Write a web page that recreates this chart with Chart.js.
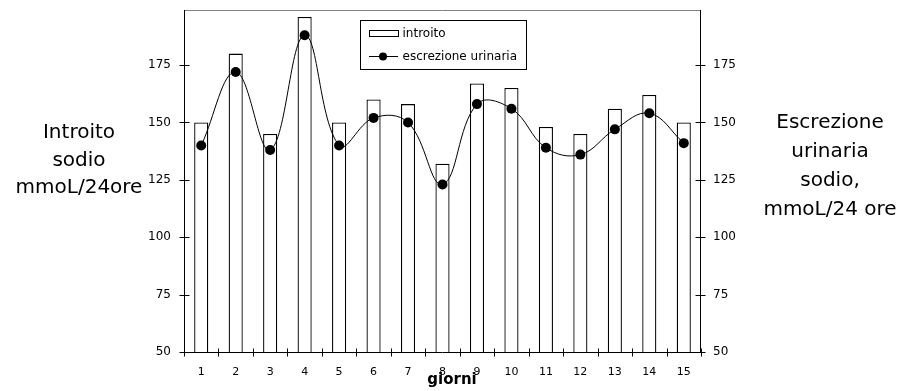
<!DOCTYPE html>
<html lang="it">
<head>
<meta charset="UTF-8">
<title>Introito ed escrezione urinaria di sodio</title>
<script src="https://cdn.jsdelivr.net/npm/chart.js@4"></script>
<style>
  html, body { margin: 0; padding: 0; background: #fff; }
  #wrap { width: 911px; height: 391px; position: relative; }
</style>
</head>
<body>
<div id="wrap"><canvas id="chart"></canvas></div>
<script>
// dati
const giorni = ['1', '2', '3', '4', '5', '6', '7', '8', '9', '10', '11', '12', '13', '14', '15'];
const introito = [150, 180, 145, 196, 150, 160, 158, 132, 167, 165, 148, 145, 156, 162, 150];
const escrezione = [140, 172, 138, 188, 140, 152, 150, 123, 158, 156, 139, 136, 147, 154, 141];
const yTicks = [50, 75, 100, 125, 150, 175];

const titoloSx = ['Introito', 'sodio', 'mmoL/24ore'];
const titoloDx = ['Escrezione', 'urinaria', 'sodio,', 'mmoL/24 ore'];
const titoloX = 'giorni';
const legenda = ['introito', 'escrezione urinaria'];

const FONT = "'DejaVu Sans', sans-serif";
Chart.defaults.color = '#000';
Chart.defaults.font.family = FONT;

// niente padding extra dalle etichette: l'area del grafico resta fissa
const noPad = s => { s.paddingTop = 0; s.paddingBottom = 0; s.paddingLeft = 0; s.paddingRight = 0; };

// assi, tacche, titoli e legenda
const cornice = {
    id: 'cornice',
    afterDatasetsDraw(chart) {
        const { ctx, chartArea: a, scales } = chart;
        const x = scales.x, y = scales.y;
        const L = Math.round(a.left) + 0.5, R = Math.round(a.right) - 0.5, B = Math.round(a.bottom) + 0.5;
        ctx.save();
        ctx.lineWidth = 1;
        // bordo superiore grigio
        ctx.strokeStyle = '#808080';
        ctx.beginPath();
        ctx.moveTo(L, Math.round(a.top) + 0.5);
        ctx.lineTo(R, Math.round(a.top) + 0.5);
        ctx.stroke();
        ctx.strokeStyle = '#000';
        ctx.beginPath();
        ctx.moveTo(L, a.top); ctx.lineTo(L, B);
        ctx.moveTo(R, a.top); ctx.lineTo(R, B);
        ctx.moveTo(L, B); ctx.lineTo(R, B);
        // tacche asse y (attraversano l'asse)
        yTicks.forEach(v => {
            const py = Math.round(y.getPixelForValue(v)) + 0.5;
            ctx.moveTo(L - 5, py); ctx.lineTo(L + 5, py);
            ctx.moveTo(R - 5, py); ctx.lineTo(R + 5, py);
        });
        // tacche asse x tra le categorie
        for (let i = 0; i <= giorni.length; i++) {
            const px = Math.round(x.getPixelForValue(i - 0.5)) + 0.5;
            ctx.moveTo(px, B - 4); ctx.lineTo(px, B + 4);
        }
        ctx.stroke();
        ctx.restore();
    },
    afterDraw(chart) {
        const { ctx } = chart;
        ctx.save();
        ctx.fillStyle = '#000';
        ctx.textAlign = 'center';
        ctx.textBaseline = 'alphabetic';
        ctx.font = '20px ' + FONT;
        titoloSx.forEach((t, i) => ctx.fillText(t, 79, 138 + i * 27.5));
        titoloDx.forEach((t, i) => ctx.fillText(t, 830, 128 + i * 29));
        ctx.font = 'bold 15px ' + FONT;
        ctx.fillText(titoloX, 452, 384);

        // legenda
        ctx.lineWidth = 1;
        ctx.strokeStyle = '#000';
        ctx.fillStyle = '#fff';
        ctx.fillRect(360.5, 20.5, 166, 49);
        ctx.strokeRect(360.5, 20.5, 166, 49);
        ctx.strokeRect(369.5, 30.5, 29, 6);
        ctx.beginPath();
        ctx.moveTo(369, 56.5); ctx.lineTo(398, 56.5);
        ctx.stroke();
        ctx.fillStyle = '#000';
        ctx.beginPath();
        ctx.arc(383, 56.5, 4, 0, Math.PI * 2);
        ctx.fill();
        ctx.font = '12px ' + FONT;
        ctx.textAlign = 'left';
        ctx.textBaseline = 'middle';
        ctx.fillText(legenda[0], 402.5, 33.5);
        ctx.fillText(legenda[1], 402.5, 56.5);
        ctx.restore();
    }
};

const ctx = document.getElementById('chart').getContext('2d');
new Chart(ctx, {
    data: {
        labels: giorni,
        datasets: [{
            type: 'line',
            label: legenda[1],
            data: escrezione,
            yAxisID: 'y2',
            borderColor: '#000',
            borderWidth: 1,
            tension: 0.4,
            pointRadius: 5,
            pointHoverRadius: 5,
            pointBackgroundColor: '#000',
            pointBorderWidth: 0,
            order: 1
        }, {
            type: 'bar',
            label: legenda[0],
            data: introito,
            yAxisID: 'y',
            base: 50,
            backgroundColor: '#fff',
            borderColor: '#000',
            borderWidth: 1.3,
            categoryPercentage: 1,
            barPercentage: 0.41,
            order: 2
        }]
    },
    options: {
        responsive: true,
        maintainAspectRatio: false,
        animation: false,
        layout: { padding: { top: 10, left: 0, right: 0, bottom: 0 } },
        plugins: {
            legend: { display: false },
            tooltip: { enabled: false }
        },
        scales: {
            x: {
                grid: { display: false, drawTicks: false },
                border: { display: false },
                ticks: { font: { size: 11 }, padding: 14, maxRotation: 0 },
                afterFit: s => { s.height = 39; noPad(s); }
            },
            y: {
                position: 'left',
                min: 50,
                max: 199,
                afterBuildTicks: s => { s.ticks = yTicks.map(v => ({ value: v })); },
                grid: { display: false, drawTicks: false },
                border: { display: false },
                ticks: { font: { size: 12 }, padding: 13 },
                afterFit: s => { s.width = 184; noPad(s); }
            },
            y2: {
                position: 'right',
                min: 50,
                max: 199,
                afterBuildTicks: s => { s.ticks = yTicks.map(v => ({ value: v })); },
                grid: { display: false, drawTicks: false },
                border: { display: false },
                ticks: { font: { size: 12 }, padding: 12 },
                afterFit: s => { s.width = 210; noPad(s); }
            }
        }
    },
    plugins: [cornice]
});
</script>
</body>
</html>
